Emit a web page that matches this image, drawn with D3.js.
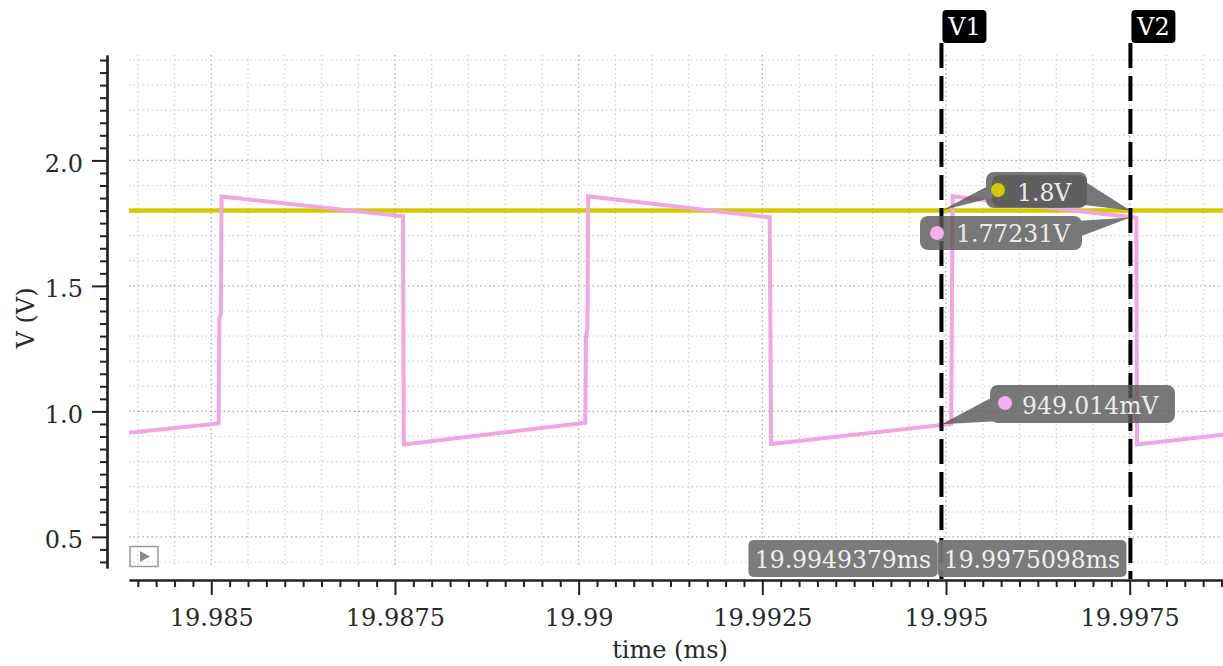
<!DOCTYPE html>
<html>
<head>
<meta charset="utf-8">
<script src="https://cdn.jsdelivr.net/npm/d3@7"></script>
<style>
  body { margin: 0; background: #fff; }
  svg text { font-family: "DejaVu Serif", serif; }
</style>
</head>
<body>
<svg id="chart"></svg>
<script>
// waveform (time in ms, volts)
const waveTime = [19.98388, 19.98510, 19.98511, 19.98513, 19.98514, 19.98761, 19.98762, 19.99009, 19.99010, 19.99012, 19.99013, 19.99260, 19.99262, 19.99507, 19.99509, 19.99759, 19.99760, 19.99877]
const waveVolt = [0.915, 0.952, 1.37, 1.39, 1.856, 1.777, 0.868, 0.955, 1.30, 1.33, 1.857, 1.773, 0.870, 0.950, 1.857, 1.771, 0.868, 0.907]
const refLevel = 1.8

const cursorNames = ['V1', 'V2']
const cursorTimes = [19.9949379, 19.9975098]
const cursorTimeLabels = ['19.9949379ms', '19.9975098ms']

// marker readouts: cursor index, value, label
const markerCursor = [0, 1, 1, 0]
const markerValues = [1.8, 1.8, 1.77231, 0.949014]
const markerLabels = ['1.8V', '1.8V', '1.77231V', '949.014mV']

const xTickValues = [19.985, 19.9875, 19.99, 19.9925, 19.995, 19.9975]
const xTickLabels = ['19.985', '19.9875', '19.99', '19.9925', '19.995', '19.9975']
const yTickValues = [0.5, 1.0, 1.5, 2.0]
const yTickLabels = ['0.5', '1.0', '1.5', '2.0']

const W = 1223, H = 666
const plot = { left: 129, right: 1223, top: 55, bottom: 568 }

const svg = d3.select('#chart').attr('width', W).attr('height', H)

const xScale = d3.scaleLinear().domain([19.98388, 19.99877]).range([plot.left, plot.right])
const yScale = d3.scaleLinear().domain([0.376, 2.42]).range([plot.bottom, plot.top])

// grid
const xGrid = d3.range(0, 30).map(i => +(19.984 + i * 0.0005).toFixed(5))
const yGrid = d3.range(0, 21).map(i => +(0.4 + i * 0.1).toFixed(2))
const isMajorX = v => xTickValues.some(t => Math.abs(t - v) < 1e-7)
const isMajorY = v => yTickValues.some(t => Math.abs(t - v) < 1e-7)

const grid = svg.append('g').attr('class', 'grid')
grid.selectAll('line.gx').data(xGrid).join('line')
    .attr('class', 'gx')
    .attr('x1', d => xScale(d)).attr('x2', d => xScale(d))
    .attr('y1', plot.top).attr('y2', plot.bottom)
    .attr('stroke', d => isMajorX(d) ? '#a8a8a8' : '#cfcfcf')
    .attr('stroke-width', 1.2)
    .attr('stroke-dasharray', '1.5,3')
grid.selectAll('line.gy').data(yGrid).join('line')
    .attr('class', 'gy')
    .attr('x1', plot.left).attr('x2', plot.right)
    .attr('y1', d => yScale(d)).attr('y2', d => yScale(d))
    .attr('stroke', d => isMajorY(d) ? '#a8a8a8' : '#cfcfcf')
    .attr('stroke-width', 1.2)
    .attr('stroke-dasharray', '1.5,3')

// axes
const xMinor = d3.range(0, 60).map(i => +(19.984 + i * 0.00025).toFixed(5)).filter(v => !isMajorX(v))
const yMinor = d3.range(0, 41).map(i => +(0.4 + i * 0.05).toFixed(2)).filter(v => !isMajorY(v))

const xAxisG = svg.append('g').attr('transform', 'translate(0,580)')
xAxisG.call(d3.axisBottom(xScale).tickValues(xMinor).tickSize(7).tickSizeOuter(0).tickFormat(''))
xAxisG.append('g').call(d3.axisBottom(xScale).tickValues(xTickValues).tickSize(15).tickSizeOuter(0)
    .tickFormat((d, i) => xTickLabels[i]))
xAxisG.selectAll('path.domain').attr('stroke', '#222').attr('stroke-width', 2.2)
xAxisG.selectAll('.tick line').attr('stroke', '#222').attr('stroke-width', 2)
xAxisG.selectAll('.tick text').attr('y', 46).attr('dy', 0)
    .attr('font-size', 24).attr('fill', '#2a2a2a').style('font-family', '"DejaVu Serif", serif')

const yAxisG = svg.append('g').attr('transform', 'translate(107,0)')
yAxisG.call(d3.axisLeft(yScale).tickValues(yMinor).tickSize(7).tickSizeOuter(0).tickFormat(''))
yAxisG.append('g').call(d3.axisLeft(yScale).tickValues(yTickValues).tickSize(15).tickSizeOuter(0).tickPadding(9)
    .tickFormat((d, i) => yTickLabels[i]))
yAxisG.selectAll('path.domain').attr('stroke', '#222').attr('stroke-width', 2.2)
yAxisG.selectAll('.tick line').attr('stroke', '#222').attr('stroke-width', 2)
yAxisG.selectAll('.tick text').attr('dy', '0.45em')
    .attr('font-size', 24).attr('fill', '#2a2a2a').style('font-family', '"DejaVu Serif", serif')

svg.append('text')
    .attr('x', 670).attr('y', 658)
    .attr('text-anchor', 'middle')
    .attr('font-size', 24).attr('fill', '#2a2a2a')
    .text('time (ms)')
svg.append('text')
    .attr('transform', 'translate(34,318) rotate(-90)')
    .attr('text-anchor', 'middle')
    .attr('font-size', 24).attr('fill', '#2a2a2a')
    .text('V (V)')

// reference level (yellow)
svg.append('line')
    .attr('x1', plot.left).attr('x2', plot.right)
    .attr('y1', yScale(refLevel)).attr('y2', yScale(refLevel))
    .attr('stroke', '#d4c900').attr('stroke-width', 4.5)

// waveform (pink)
const wave = waveTime.map((t, i) => [t, waveVolt[i]])
const line = d3.line().x(d => xScale(d[0])).y(d => yScale(d[1]))
svg.append('path')
    .datum(wave)
    .attr('d', line)
    .attr('fill', 'none')
    .attr('stroke', '#f0a6e0')
    .attr('stroke-width', 4)
    .attr('stroke-linejoin', 'miter')

// play icon
svg.append('rect').attr('x', 130).attr('y', 546.5).attr('width', 28).attr('height', 20)
    .attr('fill', 'none').attr('stroke', '#9a9a9a').attr('stroke-width', 1.5)
svg.append('path').attr('d', 'M140,551 L150,556.5 L140,562 Z').attr('fill', '#8a8a8a')

// cursors
const cursorG = svg.append('g')
cursorTimes.forEach((t, i) => {
    const cx = xScale(t)
    cursorG.append('line')
        .attr('x1', cx).attr('x2', cx).attr('y1', 43).attr('y2', 579)
        .attr('stroke', '#000').attr('stroke-width', 4)
        .attr('stroke-dasharray', '25,8')
    cursorG.append('rect')
        .attr('x', cx + 1).attr('y', 10).attr('width', 44).attr('height', 33).attr('rx', 4)
        .attr('fill', '#000')
    cursorG.append('text')
        .attr('x', cx + 23).attr('y', 35)
        .attr('text-anchor', 'middle')
        .attr('font-size', 24).attr('fill', '#fff')
        .text(cursorNames[i])
})

// time readouts at the bottom
cursorTimes.forEach((t, i) => {
    const cx = xScale(t)
    const g = svg.append('g')
    g.append('rect')
        .attr('x', cx - 193).attr('y', 540).attr('width', 189).attr('height', 37).attr('rx', 5)
        .attr('fill', '#747474').attr('opacity', 0.95)
    g.append('text')
        .attr('x', cx - 98.5).attr('y', 568)
        .attr('text-anchor', 'middle')
        .attr('font-size', 23.5).attr('fill', '#f0f0f0')
        .text(cursorTimeLabels[i])
})

// value readouts with callouts
const boxes = [
    { x: 986, y: 172, w: 101, h: 36, base: [[988, 186], [991, 198]], dot: null, tx: null },
    { x: 992, y: 175, w: 95, h: 32, base: [[1084, 181], [1084, 205]], dot: [998, 190], tx: [1017, 201] },
    { x: 920, y: 216, w: 162, h: 34, base: [[1076, 221], [1076, 238]], dot: [937, 233], tx: [956, 242] },
    { x: 990, y: 385, w: 185, h: 38, base: [[991, 398], [1000, 421]], dot: [1005, 403], tx: [1022, 414] }
]
const dotColors = ['#d4c900', '#d4c900', '#f4b0ea', '#f4b0ea']
markerValues.forEach((v, i) => {
    const b = boxes[i]
    const px = xScale(cursorTimes[markerCursor[i]])
    const py = yScale(v)
    const g = svg.append('g').attr('opacity', 0.82)
    g.append('path')
        .attr('d', `M${b.base[0][0]},${b.base[0][1]} L${px},${py} L${b.base[1][0]},${b.base[1][1]} Z`)
        .attr('fill', '#5a5a5a')
    g.append('rect')
        .attr('x', b.x).attr('y', b.y).attr('width', b.w).attr('height', b.h).attr('rx', 8)
        .attr('fill', '#5a5a5a')
    if (b.dot) {
        svg.append('circle')
            .attr('cx', b.dot[0]).attr('cy', b.dot[1]).attr('r', 7)
            .attr('fill', dotColors[i])
        svg.append('text')
            .attr('x', b.tx[0]).attr('y', b.tx[1])
            .attr('font-size', 23.5).attr('fill', '#ececec')
            .text(markerLabels[i])
    }
})
</script>
</body>
</html>
